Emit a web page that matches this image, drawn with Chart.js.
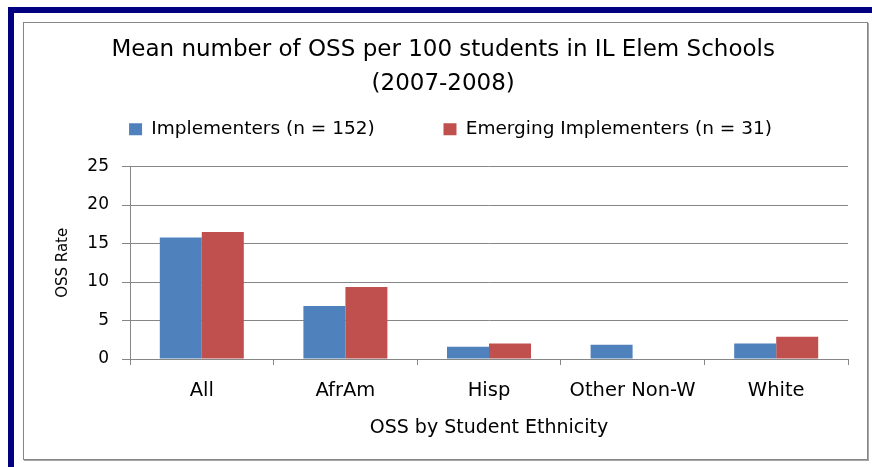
<!DOCTYPE html>
<html>
<head>
<meta charset="utf-8">
<title>Mean number of OSS per 100 students</title>
<script src="https://cdn.jsdelivr.net/npm/chart.js@4/dist/chart.umd.min.js"></script>
<style>
  html, body { margin: 0; padding: 0; background: #fff; }
  body { width: 872px; height: 467px; position: relative; overflow: hidden; }
  .frame {
    position: absolute; left: 8px; top: 7px; right: 0; bottom: 0;
    border-left: 6px solid #000080; border-top: 6px solid #000080;
  }
  .chartBox {
    position: absolute; left: 23px; top: 22px; width: 843px; height: 436px;
    border: 1px solid #868686; box-shadow: 1px 1px 0 #a6a6a6;
  }
</style>
</head>
<body>
<div class="frame"></div>
<div class="chartBox"><canvas id="ossChart"></canvas></div>
<script>
const categories = ["All", "AfrAm", "Hisp", "Other Non-W", "White"];
const implementers = [15.8, 6.9, 1.6, 1.85, 2.0];
const emerging = [16.5, 9.35, 2.0, null, 2.9];
const seriesNames = ["Implementers (n = 152)", "Emerging Implementers (n = 31)"];
const titleLines = ["Mean number of OSS per 100 students in IL Elem Schools", "(2007-2008)"];
const yTicks = [0, 5, 10, 15, 20, 25];

const FONT = "'DejaVu Sans', sans-serif";
const GRID = "#868686";

// push the plot down a bit below the legend, like the Excel layout
const legendSpacer = {
  id: "legendSpacer",
  beforeInit(chart) {
    const fit = chart.legend.fit;
    chart.legend.fit = function () {
      fit.call(this);
      this.height += 18;
    };
  },
};

new Chart(document.getElementById("ossChart"), {
  type: "bar",
  data: {
    labels: categories,
    datasets: [
      { label: seriesNames[0], data: implementers, backgroundColor: "#4F81BD" },
      { label: seriesNames[1], data: emerging, backgroundColor: "#C0504D" },
    ],
  },
  options: {
    responsive: true,
    maintainAspectRatio: false,
    animation: false,
    datasets: { bar: { barPercentage: 1, categoryPercentage: 0.585 } },
    layout: { padding: { left: 29, right: 19, top: 0, bottom: 0 } },
    plugins: {
      tooltip: { enabled: false },
      title: {
        display: true,
        // trailing spaces nudge the centred title a little to the left
        text: titleLines.map((line) => line + "  "),
        color: "#000",
        font: { family: FONT, size: 23, weight: "normal", lineHeight: 1.48 },
        padding: { top: 10, bottom: 9 },
      },
      legend: {
        display: true,
        labels: {
          color: "#000",
          font: { family: FONT, size: 18.5 },
          boxWidth: 13,
          boxHeight: 12,
          padding: 10,
          generateLabels(chart) {
            const items = Chart.defaults.plugins.legend.labels.generateLabels(chart);
            items[0].text += "          ";
            return items;
          },
        },
      },
    },
    scales: {
      x: {
        afterFit(scale) { scale.height = 100; },
        grid: { display: true, drawOnChartArea: false, color: GRID, tickLength: 6 },
        border: { display: true, color: GRID },
        ticks: { color: "#000", font: { family: FONT, size: 19.5 }, padding: 14, maxRotation: 0 },
        title: {
          display: true,
          text: "OSS by Student Ethnicity",
          color: "#000",
          font: { family: FONT, size: 19 },
          padding: { top: 0, bottom: 20 },
        },
      },
      y: {
        min: 0,
        max: 25,
        afterFit(scale) { scale.width = 77; },
        afterBuildTicks(scale) { scale.ticks = yTicks.map((v) => ({ value: v })); },
        grid: { color: GRID, tickLength: 8 },
        border: { display: true, color: GRID },
        ticks: { color: "#000", font: { family: FONT, size: 17 }, padding: 13 },
        title: {
          display: true,
          text: "OSS Rate",
          color: "#000",
          font: { family: FONT, size: 15 },
          padding: { top: 1, bottom: 0 },
        },
      },
    },
  },
  plugins: [legendSpacer],
});
</script>
</body>
</html>
